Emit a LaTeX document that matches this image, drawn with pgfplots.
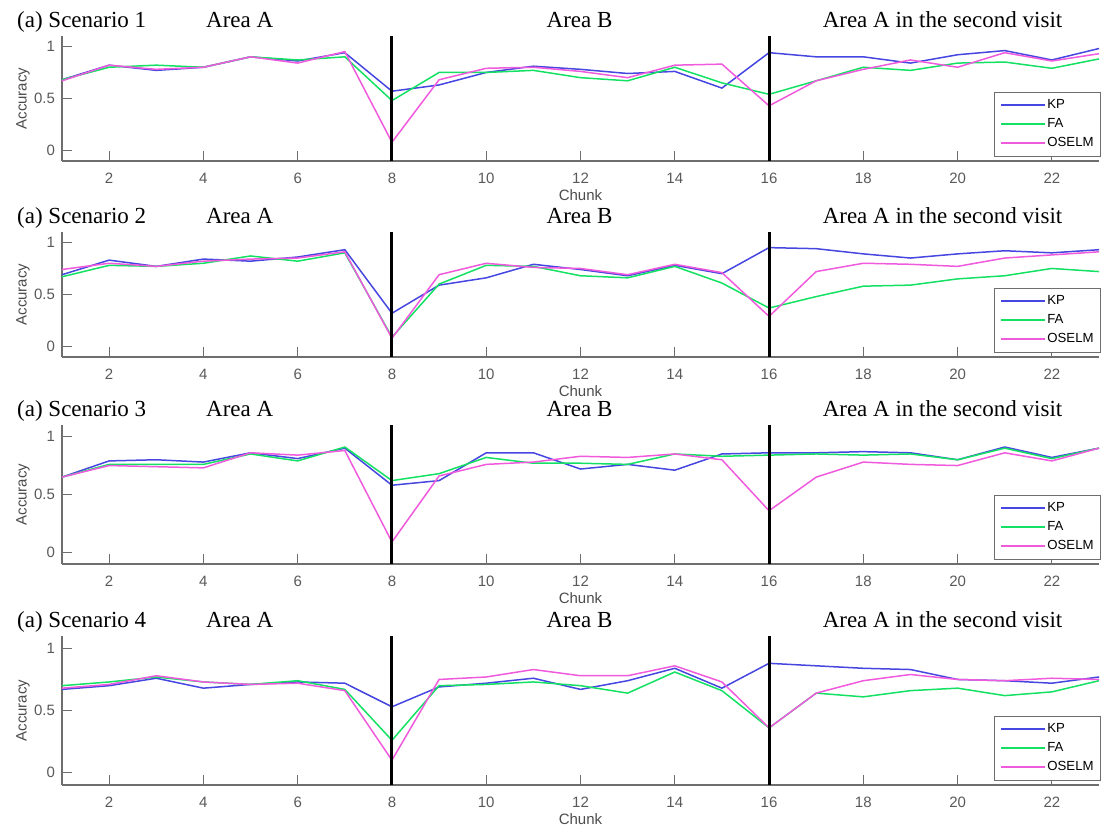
\documentclass[border=0pt]{standalone}
\usepackage{fontspec}
\setmainfont{Liberation Sans}
\newfontfamily\tnr{Liberation Serif}
\usepackage{pgfplots}
\usepackage{pgfplotstable}
\pgfplotsset{compat=1.18}

\definecolor{kpblue}{RGB}{70,70,225}
\definecolor{fagreen}{RGB}{20,225,100}
\definecolor{osmag}{RGB}{240,90,220}
\definecolor{axgray}{RGB}{110,110,110}

% columns: chunk, KP, FA, OSELM
\pgfplotstableread{
x kp fa os
1 0.68 0.68 0.67
2 0.82 0.80 0.82
3 0.77 0.82 0.78
4 0.80 0.80 0.80
5 0.90 0.90 0.90
6 0.86 0.87 0.84
7 0.94 0.90 0.95
8 0.57 0.48 0.08
9 0.63 0.75 0.68
10 0.75 0.75 0.79
11 0.81 0.77 0.80
12 0.78 0.70 0.76
13 0.74 0.67 0.70
14 0.76 0.80 0.82
15 0.60 0.65 0.83
16 0.94 0.54 0.43
17 0.90 0.67 0.67
18 0.90 0.80 0.78
19 0.84 0.77 0.87
20 0.92 0.84 0.80
21 0.96 0.85 0.94
22 0.87 0.79 0.86
23 0.98 0.88 0.93
}\scenA
\pgfplotstableread{
x kp fa os
1 0.69 0.67 0.74
2 0.83 0.78 0.80
3 0.77 0.77 0.77
4 0.84 0.80 0.82
5 0.82 0.87 0.84
6 0.86 0.82 0.85
7 0.93 0.90 0.91
8 0.32 0.09 0.08
9 0.59 0.60 0.69
10 0.66 0.78 0.80
11 0.79 0.77 0.76
12 0.74 0.68 0.75
13 0.68 0.66 0.69
14 0.78 0.77 0.79
15 0.70 0.61 0.71
16 0.95 0.37 0.29
17 0.94 0.48 0.72
18 0.89 0.58 0.80
19 0.85 0.59 0.79
20 0.89 0.65 0.77
21 0.92 0.68 0.85
22 0.90 0.75 0.88
23 0.93 0.72 0.91
}\scenB
\pgfplotstableread{
x kp fa os
1 0.65 0.65 0.65
2 0.79 0.76 0.75
3 0.80 0.76 0.74
4 0.78 0.76 0.73
5 0.86 0.85 0.86
6 0.81 0.79 0.84
7 0.90 0.91 0.88
8 0.58 0.62 0.09
9 0.62 0.68 0.66
10 0.86 0.82 0.76
11 0.86 0.77 0.78
12 0.72 0.77 0.83
13 0.76 0.76 0.82
14 0.71 0.85 0.85
15 0.85 0.83 0.80
16 0.86 0.84 0.36
17 0.86 0.85 0.65
18 0.87 0.84 0.78
19 0.86 0.85 0.76
20 0.80 0.80 0.75
21 0.91 0.90 0.86
22 0.82 0.81 0.79
23 0.90 0.90 0.90
}\scenC
\pgfplotstableread{
x kp fa os
1 0.67 0.70 0.68
2 0.70 0.73 0.71
3 0.76 0.77 0.78
4 0.68 0.73 0.73
5 0.71 0.71 0.71
6 0.73 0.74 0.72
7 0.72 0.67 0.66
8 0.53 0.26 0.10
9 0.69 0.70 0.75
10 0.72 0.71 0.77
11 0.76 0.73 0.83
12 0.67 0.70 0.78
13 0.74 0.64 0.78
14 0.84 0.81 0.86
15 0.68 0.66 0.73
16 0.88 0.36 0.36
17 0.86 0.64 0.64
18 0.84 0.61 0.74
19 0.83 0.66 0.79
20 0.75 0.68 0.75
21 0.74 0.62 0.74
22 0.72 0.65 0.76
23 0.77 0.74 0.75
}\scenD

\tikzset{ttl/.style={font=\tnr\fontsize{11.5}{13}\selectfont, anchor=base, yshift=4.5pt}}

\pgfplotsset{
  panel/.style={
    scale only axis, width=518.5pt,
    xmin=1, xmax=23, ymin=-0.1, ymax=1.1,
    xtick={2,4,...,22}, ytick={0,0.5,1},
    axis x line*=bottom, axis y line*=left,
    axis line style={-, axgray, line width=0.6pt},
    tick style={axgray, line width=0.6pt},
    tick align=inside, major tick length=5pt,
    /pgf/number format/assume math mode=true,
    ticklabel style={font=\fontsize{7.5}{9}\selectfont, text=black!65},
    xticklabel style={yshift=-2.5pt},
    xlabel={Chunk}, ylabel={Accuracy},
    every axis x label/.style={at={(axis description cs:0.5,0)}, yshift=-17pt, anchor=center,
      font=\fontsize{7.5}{9}\selectfont, text=black!70},
    every axis y label/.style={at={(axis description cs:0,0.5)}, xshift=-19.5pt, rotate=90, anchor=center,
      font=\fontsize{7.5}{9}\selectfont, text=black!70},
    clip=false,
    legend style={at={(rel axis cs:1.002,0)}, anchor=south east, yshift=2pt,
      draw=axgray, line width=0.5pt, fill=white,
      font=\fontsize{6.6}{8}\selectfont, inner xsep=3pt, inner ysep=3pt, row sep=2.5pt,
      nodes={inner sep=0.5pt}},
    legend cell align=left,
    legend image code/.code={\draw[#1, line width=1pt] (0pt,0pt) -- (22pt,0pt);},
    every axis plot/.append style={line width=0.75pt},
  },
}

\newcommand{\panel}[2]{%
  \addplot[kpblue] table[x=x, y=kp] {#1};
  \addplot[fagreen] table[x=x, y=fa] {#1};
  \addplot[osmag] table[x=x, y=os] {#1};
  \addplot[black, line width=1.5pt, forget plot] coordinates {(8,-0.1) (8,1.1)};
  \addplot[black, line width=1.5pt, forget plot] coordinates {(16,-0.1) (16,1.1)};
  \legend{KP,FA,OSELM}
  \node[ttl, anchor=base west] at (rel axis cs:-0.05,1) {(a) Scenario #2};
  \node[ttl] at (axis cs:4.77,1.1) {Area A};
  \node[ttl] at (axis cs:11.98,1.1) {Area B};
  \node[ttl] at (axis cs:19.68,1.1) {Area A in the second visit};
}

\begin{document}
\begin{tikzpicture}
\path[use as bounding box] (0,0) rectangle (551pt,-415pt);

\begin{axis}[panel, height=62.5pt, at={(31pt,-80.5pt)}, anchor=south west]
\panel{\scenA}{1}
\end{axis}

\begin{axis}[panel, height=62.5pt, at={(31pt,-178.5pt)}, anchor=south west]
\panel{\scenB}{2}
\end{axis}

\begin{axis}[panel, height=69.5pt, at={(31pt,-282pt)}, anchor=south west]
\panel{\scenC}{3}
\end{axis}

\begin{axis}[panel, height=74.5pt, at={(31pt,-392.5pt)}, anchor=south west]
\panel{\scenD}{4}
\end{axis}
\end{tikzpicture}
\end{document}
